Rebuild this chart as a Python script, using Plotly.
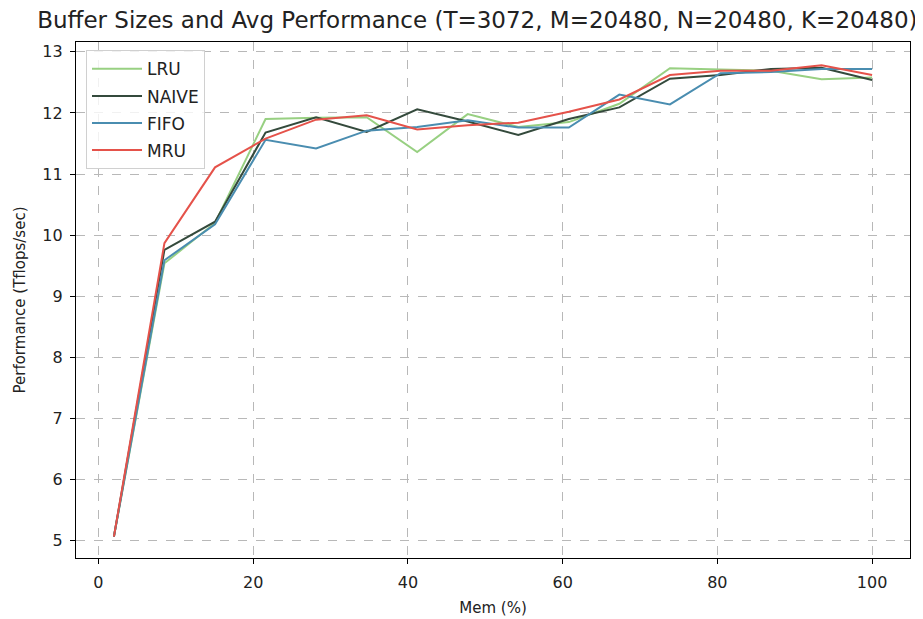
import plotly.graph_objects as go

mem = [2.0, 8.53, 15.07, 21.6, 28.13, 34.67, 41.2, 47.73, 54.27, 60.8, 67.33, 73.87, 80.4, 86.93, 93.47, 100.0]
lru = [5.07, 9.54, 10.20, 11.90, 11.92, 11.93, 11.36, 11.98, 11.77, 11.85, 12.15, 12.73, 12.71, 12.69, 12.55, 12.58]
naive = [5.07, 9.76, 10.22, 11.68, 11.93, 11.69, 12.06, 11.86, 11.64, 11.90, 12.09, 12.56, 12.62, 12.72, 12.74, 12.54]
fifo = [5.07, 9.59, 10.18, 11.56, 11.42, 11.71, 11.77, 11.88, 11.76, 11.76, 12.30, 12.14, 12.65, 12.67, 12.72, 12.72]
mru = [5.07, 9.87, 11.11, 11.58, 11.89, 11.96, 11.73, 11.80, 11.84, 12.02, 12.22, 12.62, 12.69, 12.69, 12.78, 12.62]

series = [("LRU", lru, "#98d082"), ("NAIVE", naive, "#344a3c"), ("FIFO", fifo, "#4a8db0"), ("MRU", mru, "#e5524a")]

fig = go.Figure()
for name, vals, col in series:
    fig.add_trace(go.Scatter(x=mem, y=vals, mode="lines", name=name, legendgroup=name,
                             line=dict(color=col, width=2)))

axis_common = dict(
    showline=True, linecolor="black", linewidth=1.2, mirror=True,
    ticks="outside", ticklen=5, tickcolor="black",
    showgrid=True, gridcolor="#b8b8b8", griddash="dash", gridwidth=1,
    zeroline=False, tickfont=dict(size=16, color="#222"), automargin=False,
)
fig.update_layout(
    width=915, height=611,
    paper_bgcolor="white", plot_bgcolor="white",
    font=dict(family="DejaVu Sans", color="#222"),
    margin=dict(l=68, r=13, t=34, b=61),
    title=dict(text="Buffer Sizes and Avg Performance (T=3072, M=20480, N=20480, K=20480)",
               x=0.513, xanchor="center", y=0.980, yanchor="middle", font=dict(size=23, color="#222")),
    xaxis=dict(range=[-2.9, 104.9], tickvals=[0, 20, 40, 60, 80, 100], ticklabelstandoff=5,
               title=dict(text="Mem (%)", font=dict(size=15), standoff=11), **axis_common),
    yaxis=dict(range=[4.72, 13.16], tickvals=[5, 6, 7, 8, 9, 10, 11, 12, 13], ticklabelstandoff=4,
               title=dict(text="Performance (Tflops/sec)", font=dict(size=15), standoff=13), **axis_common),
    legend=dict(x=0.012, y=0.984, xanchor="left", yanchor="top",
                bgcolor="rgba(255,255,255,0.8)", bordercolor="#d0d0d0", borderwidth=1,
                font=dict(size=17, color="#222"), tracegroupgap=2, itemwidth=50),
    showlegend=True,
)
fig.write_html("out.html")
